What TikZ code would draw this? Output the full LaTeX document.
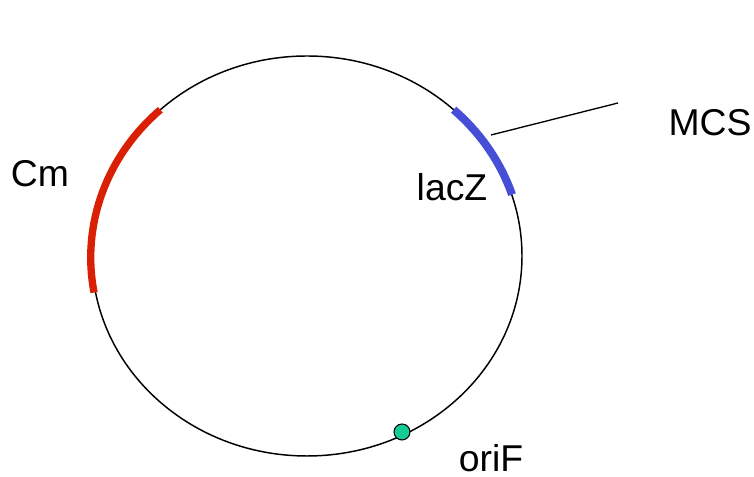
\documentclass[tikz,border=0pt]{standalone}
\usepackage{fontspec}
\setmainfont{Liberation Sans}
\usepackage{xcolor}
\usepackage{tikz}
\usetikzlibrary{positioning}
\definecolor{cmred}{RGB}{218,32,4}
\definecolor{lacblue}{RGB}{70,78,214}
\definecolor{origreen}{RGB}{22,204,150}

\begin{document}
\begin{tikzpicture}[
    x=0.75pt, y=0.75pt,
    every node/.style={font=\fontsize{28}{30}\selectfont, inner sep=0pt},
    backbone/.style={draw=black, line width=1.1pt},
    gene/.style={line width=5.5pt},
    oridot/.style={circle, draw=black, line width=0.8pt, fill=origreen, minimum size=12pt}
]
\useasboundingbox (0,0) rectangle (754,477);
% plasmid backbone
\draw[backbone] (307,221) ellipse[x radius=215, y radius=200];
% Cm and lacZ segments
\draw[gene, draw=cmred] (307,221) ++(133:215 and 200)
    arc[start angle=133, end angle=190, x radius=219, y radius=202];
\draw[gene, draw=lacblue, line width=6pt] (307,221) ++(47:215 and 200)
    arc[start angle=47, end angle=18, x radius=217, y radius=201];
% labels
\node (cm)   at (40,303)  {Cm};
\node (lacz) at (452,290) {lacZ};
\node (mcs)  at (710,354) {MCS};
\node (orif) at (491,19)  {oriF};
\node[oridot] (ori) at (402,45) {};
% MCS pointer
\coordinate (mcsfoot) at (491,342);
\coordinate (mcstip) at (618,374);
\draw[line width=1pt] (mcsfoot) -- (mcstip);
\end{tikzpicture}
\end{document}
